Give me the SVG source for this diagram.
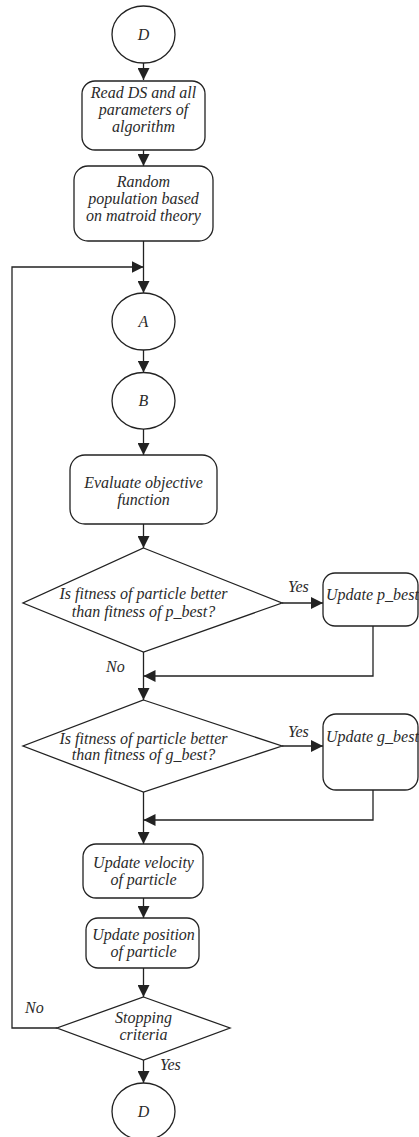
<svg xmlns="http://www.w3.org/2000/svg" width="419" height="1137" viewBox="0 0 419 1137">
<defs>
<style>
.s{fill:#fff;stroke:#222;stroke-width:1.3}
.t{font-family:"Liberation Serif","Times New Roman",serif;font-style:italic;font-size:16px;fill:#2a2a2a;text-anchor:middle}
.l{font-family:"Liberation Serif","Times New Roman",serif;font-style:italic;font-size:16px;fill:#2a2a2a}
.c{fill:none;stroke:#222;stroke-width:1.3}
</style>
<marker id="ah" markerWidth="12" markerHeight="12" refX="12" refY="6" orient="auto" markerUnits="userSpaceOnUse">
<path d="M0,0 L12,6 L0,12 Z" fill="#222"/>
</marker>
</defs>
<rect width="419" height="1137" fill="#fff"/>
<g id="connectors">
<path class="c" d="M143.5,63 V80" marker-end="url(#ah)"/>
<path class="c" d="M143.5,150 V166" marker-end="url(#ah)"/>
<path class="c" d="M143.5,241 V293" marker-end="url(#ah)"/>
<path class="c" d="M143.5,350 V372.5" marker-end="url(#ah)"/>
<path class="c" d="M143.5,429 V455" marker-end="url(#ah)"/>
<path class="c" d="M143.5,524 V548" marker-end="url(#ah)"/>
<path class="c" d="M282,603 H323" marker-end="url(#ah)"/>
<path class="c" d="M373,626 V676 H143.5" marker-end="url(#ah)"/>
<path class="c" d="M143.5,652 V700" marker-end="url(#ah)"/>
<path class="c" d="M282,746 H323" marker-end="url(#ah)"/>
<path class="c" d="M373,790 V820 H143.5" marker-end="url(#ah)"/>
<path class="c" d="M143.5,792 V844" marker-end="url(#ah)"/>
<path class="c" d="M143.5,898 V918" marker-end="url(#ah)"/>
<path class="c" d="M143.5,968 V997" marker-end="url(#ah)"/>
<path class="c" d="M143.5,1060 V1083" marker-end="url(#ah)"/>
<path class="c" d="M57,1028 H12 V267 H143.5" marker-end="url(#ah)"/>
<text class="l" x="288" y="592">Yes</text>
<text class="l" x="106" y="672">No</text>
<text class="l" x="288" y="737">Yes</text>
<text class="l" x="25" y="1013">No</text>
<text class="l" x="160" y="1070">Yes</text>
</g>
<g id="startD">
<ellipse class="s" cx="143.5" cy="34.5" rx="31.5" ry="28.5"/>
<text class="t" x="143.5" y="40">D</text>
</g>
<g id="readDS">
<rect class="s" x="82" y="81" width="123" height="69" rx="13"/>
<text class="t" x="143.5" y="98">Read DS and all</text>
<text class="t" x="143.5" y="115">parameters of</text>
<text class="t" x="143.5" y="132">algorithm</text>
</g>
<g id="randomPop">
<rect class="s" x="74" y="166" width="139" height="75" rx="14"/>
<text class="t" x="143.5" y="187">Random</text>
<text class="t" x="143.5" y="204">population based</text>
<text class="t" x="143.5" y="221">on matroid theory</text>
</g>
<g id="A">
<ellipse class="s" cx="143.5" cy="321.5" rx="31.5" ry="28.5"/>
<text class="t" x="143.5" y="327">A</text>
</g>
<g id="B">
<ellipse class="s" cx="143.5" cy="400.8" rx="31.5" ry="28.3"/>
<text class="t" x="143.5" y="406">B</text>
</g>
<g id="evaluate">
<rect class="s" x="70" y="455" width="147" height="69" rx="15"/>
<text class="t" x="143.5" y="488">Evaluate objective</text>
<text class="t" x="143.5" y="505">function</text>
</g>
<g id="decisionP">
<polygon class="s" points="143.5,548 282,603 143.5,652 23,603"/>
<text class="t" x="143.5" y="599">Is fitness of particle better</text>
<text class="t" x="143.5" y="617">than fitness of p_best?</text>
</g>
<g id="updateP">
<rect class="s" x="323" y="573" width="95" height="53" rx="12"/>
<text class="l" x="326" y="600">Update p_best</text>
</g>
<g id="decisionG">
<polygon class="s" points="143.5,700 282,746 143.5,792 23,746"/>
<text class="t" x="143.5" y="744">Is fitness of particle better</text>
<text class="t" x="143.5" y="760">than fitness of g_best?</text>
</g>
<g id="updateG">
<rect class="s" x="323" y="714" width="95" height="76" rx="13"/>
<text class="l" x="326" y="742">Update g_best</text>
</g>
<g id="velocity">
<rect class="s" x="83" y="844" width="120" height="54" rx="13"/>
<text class="t" x="143.5" y="868">Update velocity</text>
<text class="t" x="143.5" y="885">of particle</text>
</g>
<g id="position">
<rect class="s" x="86" y="918" width="113" height="50" rx="12"/>
<text class="t" x="143.5" y="940">Update position</text>
<text class="t" x="143.5" y="957">of particle</text>
</g>
<g id="stopping">
<polygon class="s" points="143.5,997 230,1028 143.5,1060 57,1028"/>
<text class="t" x="143.5" y="1023">Stopping</text>
<text class="t" x="143.5" y="1040">criteria</text>
</g>
<g id="endD">
<ellipse class="s" cx="143.5" cy="1111.5" rx="31.5" ry="28.5"/>
<text class="t" x="143.5" y="1117">D</text>
</g>
</svg>
